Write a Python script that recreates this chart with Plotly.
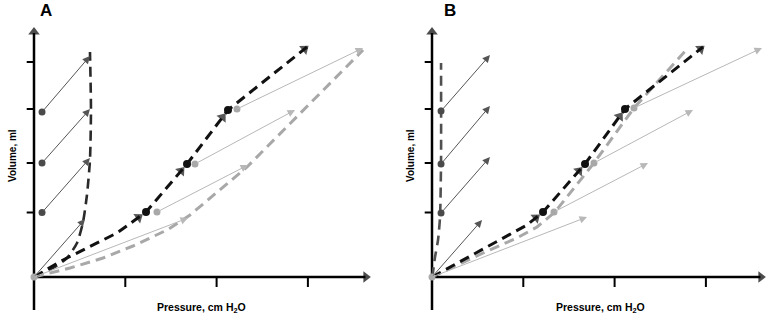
import math
import plotly.graph_objects as go

# The page's default 8px body margin is removed by a post script, so the figure fills the window.
PAGE = 0
W, H = 771 - PAGE, 320 - PAGE
PX_PER_P = 9.13        # pixels per cm H2O on the x scale
PX_PER_V = 1.0         # pixels per volume unit

# ---------------- data (pressure in cm H2O, volume in arbitrary units) ----------------
xticks = [10, 20, 30]
yticks = [64.5, 114, 168, 215]

# Panel A
a_left_p = [0, 2.08, 3.61, 4.71, 5.37, 5.8, 6.13, 6.24, 6.13]
a_left_v = [0, 9, 19, 34, 55, 82, 117, 167, 225]
a_black_p = [0, 3.18, 5.8, 9.09, 12.27, 16.76, 21.25, 29.9]
a_black_v = [0, 17, 29, 44, 65, 113, 167, 230]
a_gray_p = [0, 3.94, 7.56, 10.84, 14.57, 17.09, 23.33, 36.04]
a_gray_v = [0, 9, 19, 31, 47, 62, 110, 227]
a_dark_dots_p = [0.88, 0.88, 0.88]
a_dark_dots_v = [64.5, 114, 165]
a_dark_start_p = [0, 0.88, 0.88, 0.88]
a_dark_start_v = [0, 64.5, 114, 165]
a_dark_end_p = [5.59, 6.13, 6.13, 6.13]
a_dark_end_v = [58, 119, 168, 221]
a_black_dots_p = [12.27, 16.76, 21.25]
a_black_dots_v = [65, 113, 167]
a_gray_dots_p = [13.47, 17.63, 22.23]
a_gray_dots_v = [65, 113, 168]
a_gray_start_p = [0, 13.47, 17.63, 22.23]
a_gray_start_v = [0, 65, 113, 168]
a_gray_end_p = [16.87, 23.44, 28.59, 36.04]
a_gray_end_v = [59, 112, 167, 229]

# Panel B
b_left_p = [0, 0.11, 0.33, 0.66, 0.88, 0.99, 0.99]
b_left_v = [0, 5, 20, 37, 60, 117, 214]
b_black_p = [0, 3.83, 7.45, 10.41, 12.16, 16.76, 21.14, 29.68]
b_black_v = [0, 19, 37, 52, 65, 113, 168, 230]
b_gray_p = [0, 5.59, 9.31, 11.5, 13.47, 17.74, 22.12, 28.04]
b_gray_v = [0, 24, 39, 50, 65, 114, 169, 229]
b_dark_dots_p = [0.99, 0.99, 0.99]
b_dark_dots_v = [64, 113, 166]
b_dark_start_p = [0, 0.99, 0.99, 0.99]
b_dark_start_v = [0, 64, 113, 166]
b_dark_end_p = [5.48, 6.35, 6.35, 6.35]
b_dark_end_v = [57, 120, 171, 222]
b_black_dots_p = [12.16, 16.76, 21.14]
b_black_dots_v = [65, 113, 168]
b_gray_dots_p = [13.36, 17.74, 22.12]
b_gray_dots_v = [65, 114, 169]
b_gray_start_p = [0, 13.36, 17.74, 22.12]
b_gray_start_v = [0, 65, 114, 169]
b_gray_end_p = [16.98, 23.66, 28.59, 36.14]
b_gray_end_v = [60, 114, 167, 229]

# axis extents
a_xaxis_end = 36.8
b_xaxis_end = 36.47
yaxis_top = 249
yaxis_bottom = -33

# ---------------- figure ----------------
BLACK = "#111111"
DARK = "#4a4a4a"
GRAY = "#a8a8a8"
THIN_GRAY = "#b8b8b8"

fig = go.Figure()
annotations = []
shapes = []


def head_marker(common, tx, ty, hx, hy, size, color):
    fig.add_trace(go.Scatter(x=[tx, hx], y=[ty, hy], mode="markers",
                             marker=dict(symbol="triangle-up", size=[0, size], color=color,
                                         angleref="previous", line=dict(width=0)),
                             **common))


def add_panel(xr, yr, left_p, left_v, left_col, black_p, black_v, gray_p, gray_v,
              dark_dots_p, dark_dots_v, dark_s_p, dark_s_v, dark_e_p, dark_e_v,
              black_dots_p, black_dots_v, gray_dots_p, gray_dots_v,
              gray_s_p, gray_s_v, gray_e_p, gray_e_v, x_end):
    common = dict(xaxis=xr, yaxis=yr, hoverinfo="skip", showlegend=False)
    # axes lines with arrow tips
    fig.add_trace(go.Scatter(x=[0, 0], y=[yaxis_bottom, yaxis_top - 5], mode="lines",
                             line=dict(color="black", width=2.5), **common))
    fig.add_trace(go.Scatter(x=[0, x_end - 0.5], y=[0, 0], mode="lines",
                             line=dict(color="black", width=2.5), **common))
    head_marker(common, 0, yaxis_top - 14, 0, yaxis_top - 4, 10, "black")
    head_marker(common, x_end - 1.5, 0, x_end - 0.45, 0, 10, "black")
    # ticks
    for t in xticks:
        shapes.append(dict(type="line", xref=xr, yref=yr, x0=t, x1=t, y0=0, y1=-10,
                           line=dict(color="black", width=2)))
    for t in yticks:
        shapes.append(dict(type="line", xref=xr, yref=yr, x0=0, x1=-0.8, y0=t, y1=t,
                           line=dict(color="black", width=2)))
    # left dashed curve
    fig.add_trace(go.Scatter(x=left_p, y=left_v, mode="lines",
                             line=dict(color=left_col, width=2.6, dash="10px,6px", shape="spline", smoothing=0.6),
                             **common))
    # gray dashed curve
    fig.add_trace(go.Scatter(x=gray_p, y=gray_v, mode="lines",
                             line=dict(color=GRAY, width=3, dash="10px,6px"), **common))
    # black dashed curve
    fig.add_trace(go.Scatter(x=black_p, y=black_v, mode="lines",
                             line=dict(color=BLACK, width=3, dash="10px,6px"), **common))
    # thin arrows
    for sp, sv, ep, ev in zip(dark_s_p, dark_s_v, dark_e_p, dark_e_v):
        annotations.append(dict(x=ep, y=ev, ax=sp, ay=sv, xref=xr, yref=yr,
                                axref=xr, ayref=yr, showarrow=True, text="",
                                arrowhead=2, arrowsize=1.5, arrowwidth=1, arrowcolor="#555555"))
    for sp, sv, ep, ev in zip(gray_s_p, gray_s_v, gray_e_p, gray_e_v):
        annotations.append(dict(x=ep, y=ev, ax=sp, ay=sv, xref=xr, yref=yr,
                                axref=xr, ayref=yr, showarrow=True, text="",
                                arrowhead=2, arrowsize=1.5, arrowwidth=1, arrowcolor=THIN_GRAY))
    # arrowheads on the black dashed curve (just before each black dot, and at its end)
    for i in range(1, len(black_p)):
        is_dot = any(abs(black_p[i] - d) < 1e-6 for d in black_dots_p)
        is_end = i == len(black_p) - 1
        if not (is_dot or is_end):
            continue
        dxp = (black_p[i] - black_p[i - 1]) * PX_PER_P
        dyp = (black_v[i] - black_v[i - 1]) * PX_PER_V
        L = math.hypot(dxp, dyp)
        back = 9 if is_dot else 3
        hx = black_p[i] - back * dxp / L / PX_PER_P
        hy = black_v[i] - back * dyp / L / PX_PER_V
        tx = hx - 6 * dxp / L / PX_PER_P
        ty = hy - 6 * dyp / L / PX_PER_V
        head_marker(common, tx, ty, hx, hy, 10, BLACK)
    # dots
    fig.add_trace(go.Scatter(x=[0], y=[0], mode="markers", marker=dict(color="#aaaaaa", size=7), **common))
    fig.add_trace(go.Scatter(x=dark_dots_p, y=dark_dots_v, mode="markers",
                             marker=dict(color=DARK, size=7), **common))
    fig.add_trace(go.Scatter(x=gray_dots_p, y=gray_dots_v, mode="markers",
                             marker=dict(color=GRAY, size=7), **common))
    fig.add_trace(go.Scatter(x=black_dots_p, y=black_dots_v, mode="markers",
                             marker=dict(color=BLACK, size=8), **common))


add_panel("x", "y", a_left_p, a_left_v, "#2a2a2a", a_black_p, a_black_v, a_gray_p, a_gray_v,
          a_dark_dots_p, a_dark_dots_v, a_dark_start_p, a_dark_start_v, a_dark_end_p, a_dark_end_v,
          a_black_dots_p, a_black_dots_v, a_gray_dots_p, a_gray_dots_v,
          a_gray_start_p, a_gray_start_v, a_gray_end_p, a_gray_end_v, a_xaxis_end)
add_panel("x2", "y2", b_left_p, b_left_v, "#505050", b_black_p, b_black_v, b_gray_p, b_gray_v,
          b_dark_dots_p, b_dark_dots_v, b_dark_start_p, b_dark_start_v, b_dark_end_p, b_dark_end_v,
          b_black_dots_p, b_black_dots_v, b_gray_dots_p, b_gray_dots_v,
          b_gray_start_p, b_gray_start_v, b_gray_end_p, b_gray_end_v, b_xaxis_end)

# text labels (positions in page pixels, converted to paper fractions)
FONT = "Liberation Sans, Arial, sans-serif"
def px(xp):
    return (xp - PAGE) / W
def py(yp):
    return 1 - (yp - PAGE) / H

txt = dict(xref="paper", yref="paper", showarrow=False, xanchor="center", yanchor="middle")
for label, xc in [("A", 46), ("B", 450)]:
    annotations.append(dict(x=px(xc), y=py(10), text="<b>%s</b>" % label,
                            font=dict(family=FONT, size=17, color="black"), **txt))
for xc in [12, 410]:
    annotations.append(dict(x=px(xc), y=py(156), text="<b>Volume, ml</b>", textangle=-90,
                            font=dict(family=FONT, size=10, color="black"), **txt))
for xc in [201, 600]:
    annotations.append(dict(x=px(xc), y=py(308), text="<b>Pressure, cm H<sub>2</sub>O</b>",
                            font=dict(family=FONT, size=10.5, color="black"), **txt))

# axis ranges so that the origins sit where the reference draws them
ax_common = dict(visible=False, showgrid=False, zeroline=False, fixedrange=True)
ORIG_AX, ORIG_BX, ORIG_Y = 34 - PAGE, 432 - PAGE, 277 - PAGE
split = 385.5 - PAGE
fig.update_layout(
    width=W, height=H, margin=dict(l=0, r=0, t=0, b=0),
    paper_bgcolor="white", plot_bgcolor="white",
    xaxis=dict(domain=[0, split / W], range=[-ORIG_AX / PX_PER_P, (split - ORIG_AX) / PX_PER_P], **ax_common),
    xaxis2=dict(domain=[split / W, 1], range=[(split - ORIG_BX) / PX_PER_P, (W - ORIG_BX) / PX_PER_P], **ax_common),
    yaxis=dict(domain=[0, 1], range=[-(H - ORIG_Y) / PX_PER_V, ORIG_Y / PX_PER_V], **ax_common),
    yaxis2=dict(domain=[0, 1], anchor="x2", range=[-(H - ORIG_Y) / PX_PER_V, ORIG_Y / PX_PER_V], **ax_common),
    annotations=annotations, shapes=shapes, showlegend=False,
)
fig.write_html("out.html", config={"displayModeBar": False, "staticPlot": True},
               post_script="document.body.style.margin='0px';document.body.style.overflow='hidden';")
